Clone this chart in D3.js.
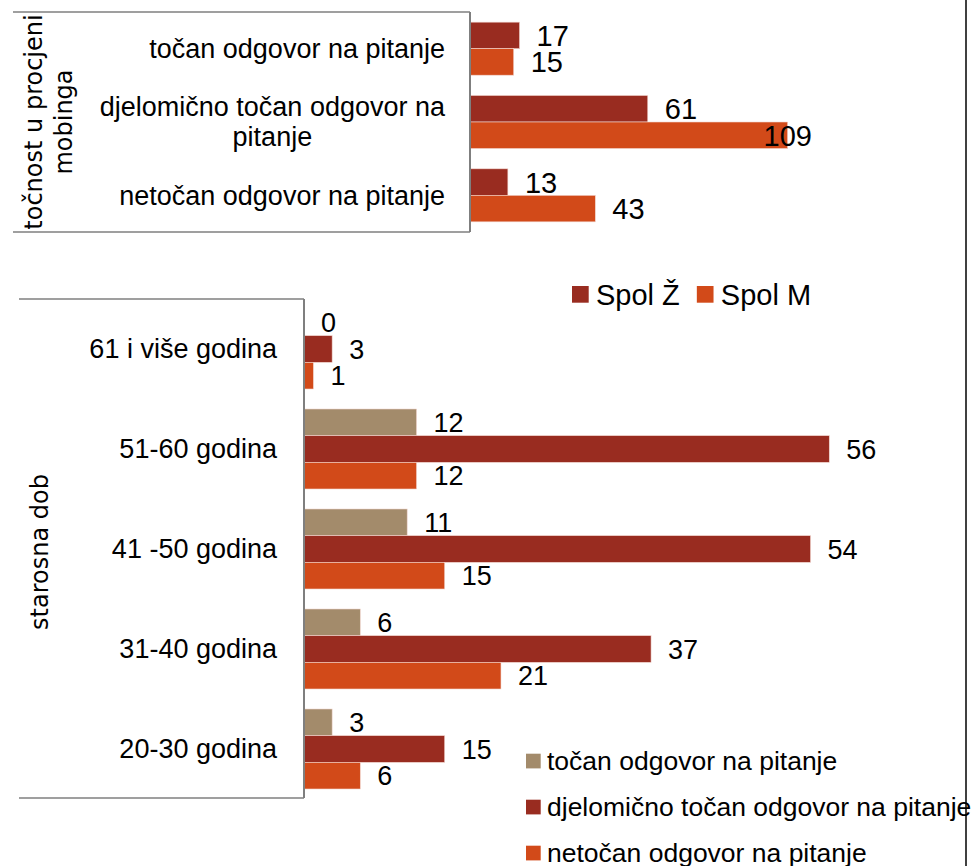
<!DOCTYPE html>
<html lang="hr">
<head>
    <meta charset="UTF-8">
    <title>Točnost u procjeni mobinga i starosna dob</title>
    <script src="https://d3js.org/d3.v7.min.js"></script>
    <style>
        body { margin: 0; background: #fff; }
        text { font-family: "Liberation Sans", Arial, sans-serif; fill: #000; }
        .title { font-family: "DejaVu Sans", Verdana, sans-serif; font-size: 24px; }
    </style>
</head>
<body>
    <div id="chart"></div>

    <script>
        // top chart data (spol)
        const accuracyCats = ["točan odgovor na pitanje", "djelomično točan odgovor na pitanje", "netočan odgovor na pitanje"];
        const sexSeries = ["Spol Ž", "Spol M"];
        const femaleValues = [17, 61, 13];
        const maleValues = [15, 109, 43];

        // bottom chart data (starosna dob)
        const ageCats = ["61 i više godina", "51-60 godina", "41 -50 godina", "31-40 godina", "20-30 godina"];
        const answerSeries = ["točan odgovor na pitanje", "djelomično točan odgovor na pitanje", "netočan odgovor na pitanje"];
        const correctValues = [0, 12, 11, 6, 3];
        const partialValues = [3, 56, 54, 37, 15];
        const wrongValues = [1, 12, 15, 21, 6];

        const colTan = "#a38b6b", colDark = "#992c20", colOrange = "#d24a19";
        const axisGray = "#7f7f7f";

        const width = 978, height = 866;
        const svg = d3.select("#chart").append("svg")
            .attr("width", width).attr("height", height);

        // ---------- top chart ----------
        const topY = d3.scaleBand().domain(accuracyCats).range([12, 232])
            .paddingInner(0.277).paddingOuter(0.1385);
        const topSub = d3.scaleBand().domain(sexSeries).range([0, topY.bandwidth()]);
        const topX = d3.scaleLinear().domain([0, 120]).range([470, 819.7]);

        const topRows = accuracyCats.map((c, i) => ({cat: c, vals: [femaleValues[i], maleValues[i]]}));
        const topColors = [colDark, colOrange];

        const tg = svg.append("g");
        topRows.forEach(r => {
            r.vals.forEach((v, j) => {
                const y0 = topY(r.cat) + topSub(sexSeries[j]);
                tg.append("rect")
                  .attr("x", topX(0)).attr("y", y0)
                  .attr("width", topX(v) - topX(0))
                  .attr("height", topSub.bandwidth())
                  .attr("fill", topColors[j])
                  .attr("stroke", "#f2d6cf").attr("stroke-width", 0.6);
                const lbl = tg.append("text")
                  .attr("x", topX(v) + 17)
                  .attr("y", y0 + topSub.bandwidth() / 2)
                  .attr("dy", "0.36em")
                  .style("font-size", "29px")
                  .text(v);
                // excel keeps labels inside the plot area
                const w = lbl.node().getComputedTextLength();
                if (topX(v) + 17 + w > 812) lbl.attr("x", 812 - w);
            });
        });

        // box lines + axis
        tg.append("line").attr("x1", 13).attr("x2", 470).attr("y1", 12).attr("y2", 12)
          .attr("stroke", axisGray).attr("stroke-width", 1.5);
        tg.append("line").attr("x1", 13).attr("x2", 470).attr("y1", 232).attr("y2", 232)
          .attr("stroke", axisGray).attr("stroke-width", 1.5);
        tg.append("line").attr("x1", 470).attr("x2", 470).attr("y1", 12).attr("y2", 232)
          .attr("stroke", axisGray).attr("stroke-width", 2);

        // category labels, wrapped and centred line by line
        accuracyCats.forEach(c => {
            const words = c.split(" ");
            const lines = [];
            let cur = "";
            const probe = tg.append("text").style("font-size", "27px");
            words.forEach(wd => {
                const test = cur ? cur + " " + wd : wd;
                probe.text(test);
                if (probe.node().getComputedTextLength() > 350 && cur) { lines.push(cur); cur = wd; }
                else cur = test;
            });
            lines.push(cur);
            const widths = lines.map(l => { probe.text(l); return probe.node().getComputedTextLength(); });
            probe.remove();
            const maxW = d3.max(widths);
            const cx = 445 - maxW / 2;
            const cy = topY(c) + topY.bandwidth() / 2;
            lines.forEach((l, k) => {
                tg.append("text")
                  .attr("x", cx)
                  .attr("y", cy + (k - (lines.length - 1) / 2) * 30)
                  .attr("dy", "0.35em")
                  .attr("text-anchor", "middle")
                  .style("font-size", "27px")
                  .text(l);
            });
        });

        // rotated axis title
        const tt = tg.append("text").attr("class", "title")
            .attr("transform", "translate(34,122) rotate(-90)")
            .attr("text-anchor", "middle");
        tt.append("tspan").attr("x", 0).attr("dy", "0.35em").text("točnost u procjeni");
        tt.append("tspan").attr("x", 0).attr("dy", 30).text("mobinga");

        // ---------- bottom chart ----------
        const botY = d3.scaleBand().domain(ageCats).range([299, 799])
            .paddingInner(0.2).paddingOuter(0.1);
        const botSub = d3.scaleBand().domain(answerSeries).range([0, botY.bandwidth()]);
        const botX = d3.scaleLinear().domain([0, 60]).range([304, 866.8]);

        const botRows = ageCats.map((c, i) => ({cat: c, vals: [correctValues[i], partialValues[i], wrongValues[i]]}));
        const botColors = [colTan, colDark, colOrange];

        const bg = svg.append("g");
        botRows.forEach(r => {
            r.vals.forEach((v, j) => {
                const y0 = botY(r.cat) + botSub(answerSeries[j]);
                if (v > 0) {
                    bg.append("rect")
                      .attr("x", botX(0)).attr("y", y0)
                      .attr("width", botX(v) - botX(0))
                      .attr("height", botSub.bandwidth())
                      .attr("fill", botColors[j])
                      .attr("stroke", "#f2d6cf").attr("stroke-width", 0.6);
                }
                bg.append("text")
                  .attr("x", botX(v) + 17)
                  .attr("y", y0 + botSub.bandwidth() / 2)
                  .attr("dy", "0.36em")
                  .style("font-size", "27px")
                  .text(v);
            });
            bg.append("text")
              .attr("x", 277)
              .attr("y", botY(r.cat) + botY.bandwidth() / 2)
              .attr("dy", "0.35em")
              .attr("text-anchor", "end")
              .style("font-size", "27px")
              .text(r.cat);
        });

        bg.append("line").attr("x1", 19).attr("x2", 304).attr("y1", 299).attr("y2", 299)
          .attr("stroke", axisGray).attr("stroke-width", 1.5);
        bg.append("line").attr("x1", 19).attr("x2", 304).attr("y1", 798).attr("y2", 798)
          .attr("stroke", axisGray).attr("stroke-width", 1.5);
        bg.append("line").attr("x1", 304).attr("x2", 304).attr("y1", 299).attr("y2", 798)
          .attr("stroke", axisGray).attr("stroke-width", 2);

        bg.append("text").attr("class", "title")
          .attr("transform", "translate(40,552) rotate(-90)")
          .attr("text-anchor", "middle")
          .attr("dy", "0.35em")
          .text("starosna dob");

        // ---------- legends ----------
        // Spol legend (horizontal)
        let lx = 572;
        sexSeries.forEach((s, i) => {
            svg.append("rect").attr("x", lx).attr("y", 286)
               .attr("width", 16.7).attr("height", 16.7).attr("fill", topColors[i]);
            const t = svg.append("text").attr("x", lx + 24).attr("y", 295)
               .attr("dy", "0.35em").style("font-size", "29px").text(s);
            lx += 24 + t.node().getComputedTextLength() + 17;
        });

        // answer legend (vertical)
        answerSeries.forEach((s, i) => {
            const cy = 761 + i * 46;
            svg.append("rect").attr("x", 526).attr("y", cy - 7.3)
               .attr("width", 14.7).attr("height", 14.7).attr("fill", botColors[i]);
            svg.append("text").attr("x", 547).attr("y", cy)
               .attr("dy", "0.35em").style("font-size", "26.5px").text(s);
        });

        // frame line on the right edge
        svg.append("line").attr("x1", 966).attr("x2", 966).attr("y1", 0).attr("y2", height)
           .attr("stroke", "#000").attr("stroke-width", 1.5);
    </script>
</body>
</html>
